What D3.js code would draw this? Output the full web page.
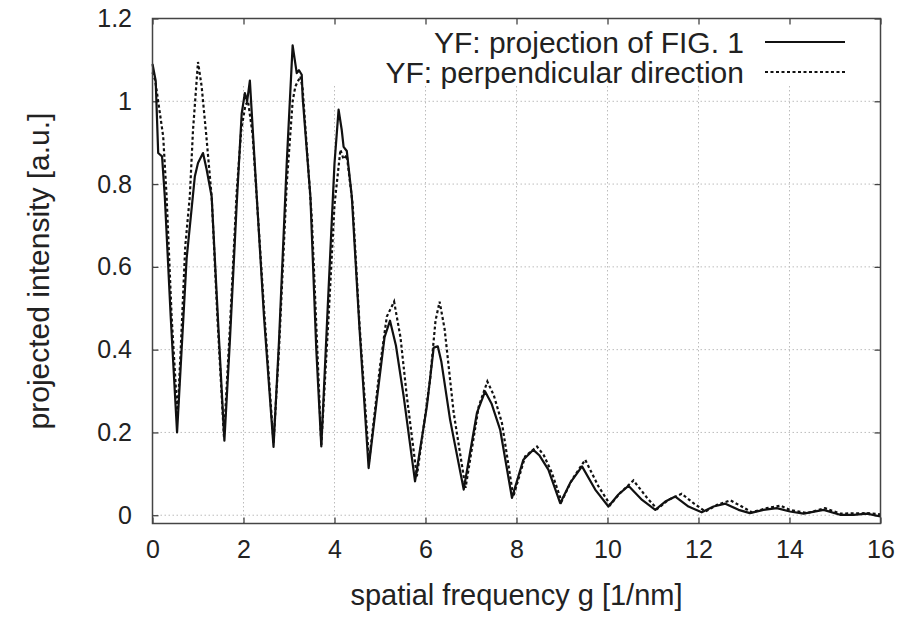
<!DOCTYPE html>
<html>
<head>
<meta charset="utf-8">
<script src="https://cdn.jsdelivr.net/npm/d3@7"></script>
<style>
  body { margin: 0; background: #fff; }
  text { font-family: "Liberation Sans", Arial, sans-serif; fill: #222; }
</style>
</head>
<body>
<div id="chart"></div>
<script>
// spatial frequency g [1/nm] vs projected intensity [a.u.]
var projection = [
  [0, 1.09], [0.07, 1.05], [0.125, 0.875], [0.21, 0.867], [0.27, 0.77], [0.4, 0.48], [0.54, 0.2],
  [0.62, 0.36], [0.75, 0.62], [0.93, 0.818], [1.0, 0.851], [1.11, 0.875], [1.19, 0.835], [1.3, 0.77],
  [1.45, 0.45], [1.58, 0.18], [1.7, 0.42], [1.85, 0.75], [1.96, 0.97], [2.03, 1.02], [2.08, 1.0],
  [2.14, 1.05], [2.22, 0.9], [2.45, 0.48], [2.66, 0.165], [2.78, 0.42], [2.95, 0.85], [3.08, 1.135],
  [3.17, 1.068], [3.22, 1.075], [3.28, 1.064], [3.3, 1.01], [3.47, 0.77], [3.6, 0.4], [3.71, 0.166],
  [3.85, 0.5], [4.0, 0.85], [4.09, 0.98], [4.16, 0.93], [4.2, 0.89], [4.27, 0.88], [4.38, 0.77],
  [4.55, 0.45], [4.75, 0.114], [4.93, 0.279], [5.1, 0.43], [5.22, 0.47], [5.35, 0.41], [5.52, 0.287],
  [5.77, 0.082], [6.03, 0.263], [6.18, 0.405], [6.27, 0.408], [6.35, 0.37], [6.54, 0.231], [6.84, 0.062],
  [7.13, 0.247], [7.31, 0.299], [7.45, 0.27], [7.64, 0.207], [7.9, 0.042], [8.15, 0.134], [8.37, 0.158],
  [8.5, 0.145], [8.7, 0.11], [8.96, 0.029], [9.18, 0.078], [9.44, 0.118], [9.73, 0.062], [10.02, 0.021],
  [10.24, 0.05], [10.46, 0.071], [10.76, 0.037], [11.05, 0.013], [11.27, 0.033], [11.49, 0.045],
  [11.78, 0.021], [12.07, 0.007], [12.33, 0.021], [12.59, 0.028], [12.88, 0.013], [13.13, 0.005],
  [13.43, 0.013], [13.72, 0.017], [14.01, 0.009], [14.31, 0.004], [14.75, 0.013], [15.11, 0.001],
  [15.41, 0.001], [15.7, 0.004], [16, -0.003]
];

var perpendicular = [
  [0, 1.07], [0.06, 1.05], [0.125, 1.0], [0.235, 0.915], [0.31, 0.77], [0.42, 0.48], [0.55, 0.24],
  [0.62, 0.4], [0.72, 0.65], [0.82, 0.77], [0.89, 0.93], [1.0, 1.095], [1.08, 1.036], [1.18, 0.92],
  [1.3, 0.77], [1.43, 0.47], [1.57, 0.19], [1.7, 0.45], [1.85, 0.78], [1.95, 0.93], [2.04, 0.99],
  [2.1, 1.0], [2.2, 0.92], [2.45, 0.5], [2.66, 0.175], [2.78, 0.4], [2.95, 0.8], [3.08, 1.0],
  [3.14, 1.036], [3.25, 1.06], [3.3, 1.03], [3.5, 0.72], [3.71, 0.17], [3.88, 0.5], [4.0, 0.75],
  [4.13, 0.883], [4.2, 0.86], [4.27, 0.87], [4.4, 0.75], [4.55, 0.46], [4.76, 0.13], [5.0, 0.36],
  [5.15, 0.48], [5.31, 0.516], [5.45, 0.43], [5.59, 0.287], [5.81, 0.094], [6.1, 0.327], [6.22, 0.47],
  [6.31, 0.516], [6.42, 0.45], [6.62, 0.247], [6.88, 0.066], [7.17, 0.263], [7.36, 0.323], [7.5, 0.29],
  [7.68, 0.223], [7.93, 0.045], [8.19, 0.142], [8.45, 0.166], [8.6, 0.145], [8.78, 0.102], [8.99, 0.033],
  [9.22, 0.086], [9.51, 0.134], [9.8, 0.07], [10.06, 0.025], [10.28, 0.054], [10.57, 0.084],
  [10.87, 0.042], [11.09, 0.015], [11.34, 0.037], [11.63, 0.052], [11.89, 0.029], [12.15, 0.009],
  [12.41, 0.025], [12.7, 0.036], [12.95, 0.021], [13.17, 0.007], [13.5, 0.017], [13.8, 0.023],
  [14.01, 0.013], [14.38, 0.005], [14.78, 0.017], [15.11, 0.004], [15.7, 0.005], [16, 0.002]
];

var xTicks = [0, 2, 4, 6, 8, 10, 12, 14, 16];
var yTicks = [0, 0.2, 0.4, 0.6, 0.8, 1, 1.2];
var seriesNames = ["YF: projection of FIG. 1", "YF: perpendicular direction"];

var width = 917, height = 617;
var margin = {top: 18.5, right: 36.5, bottom: 93.5, left: 152.5};

var svg = d3.select("#chart")
    .append("svg")
    .attr("width", width)
    .attr("height", height);

var x = d3.scaleLinear()
    .domain([0, 16])
    .range([margin.left, width - margin.right]);

var y = d3.scaleLinear()
    .domain([-0.02, 1.2])
    .range([height - margin.bottom, margin.top]);

// grid
var grid = svg.append("g")
    .attr("stroke", "#bcbcbc")
    .attr("stroke-width", 1)
    .attr("stroke-dasharray", "1.5,2.5");

grid.selectAll("line.hg")
    .data(yTicks.filter(function(d) { return d < 1.2; }))
    .enter()
    .append("line")
    .attr("x1", x(0))
    .attr("x2", x(16))
    .attr("y1", function(d) { return y(d); })
    .attr("y2", function(d) { return y(d); });

grid.selectAll("line.vg")
    .data(xTicks.filter(function(d) { return d > 0 && d < 16; }))
    .enter()
    .append("line")
    .attr("x1", function(d) { return x(d); })
    .attr("x2", function(d) { return x(d); })
    .attr("y1", y(-0.02))
    .attr("y2", y(1.04));

// axes (inside ticks, mirrored)
var tickLen = 6;
var xAxis = d3.axisBottom(x).tickValues(xTicks).tickSize(-tickLen).tickPadding(17).tickFormat(d3.format("d"));
var xAxisTop = d3.axisTop(x).tickValues(xTicks).tickSize(-tickLen).tickFormat("");
var yAxis = d3.axisLeft(y).tickValues(yTicks).tickSize(-tickLen).tickPadding(20.5).tickFormat(function(d) { return d3.format("")(d); });
var yAxisRight = d3.axisRight(y).tickValues(yTicks).tickSize(-tickLen).tickFormat("");

function styleAxis(g) {
    g.select(".domain").remove();
    g.selectAll(".tick line").attr("stroke", "#444").attr("stroke-width", 1.3);
    g.selectAll(".tick text").attr("font-size", "25px").attr("fill", "#222");
}

svg.append("g")
    .attr("transform", "translate(0," + y(-0.02) + ")")
    .call(xAxis)
    .call(styleAxis);

svg.append("g")
    .attr("transform", "translate(0," + y(1.2) + ")")
    .call(xAxisTop)
    .call(styleAxis);

svg.append("g")
    .attr("transform", "translate(" + x(0) + ",0)")
    .call(yAxis)
    .call(styleAxis);

svg.append("g")
    .attr("transform", "translate(" + x(16) + ",0)")
    .call(yAxisRight)
    .call(styleAxis);

// curves
var line = d3.line()
    .x(function(d) { return x(d[0]); })
    .y(function(d) { return y(d[1]); });

svg.append("path")
    .datum(perpendicular)
    .attr("fill", "none")
    .attr("stroke", "#111")
    .attr("stroke-width", 2.2)
    .attr("stroke-dasharray", "3,2.5")
    .attr("d", line);

svg.append("path")
    .datum(projection)
    .attr("fill", "none")
    .attr("stroke", "#111")
    .attr("stroke-width", 2.2)
    .attr("stroke-linejoin", "round")
    .attr("d", line);

// frame
svg.append("rect")
    .attr("x", x(0))
    .attr("y", y(1.2))
    .attr("width", x(16) - x(0))
    .attr("height", y(-0.02) - y(1.2))
    .attr("fill", "none")
    .attr("stroke", "#444")
    .attr("stroke-width", 1.5);

// legend
var legend = svg.selectAll("g.legend")
    .data(seriesNames)
    .enter()
    .append("g")
    .attr("transform", function(d, i) { return "translate(0," + (42 + i * 30) + ")"; });

legend.append("text")
    .attr("x", 744)
    .attr("dy", "0.35em")
    .attr("text-anchor", "end")
    .attr("font-size", "30px")
    .text(function(d) { return d; });

legend.append("line")
    .attr("x1", 765)
    .attr("x2", 845)
    .attr("stroke", "#111")
    .attr("stroke-width", 2)
    .attr("stroke-dasharray", function(d, i) { return i === 0 ? null : "3,2.5"; });

// axis titles
svg.append("text")
    .attr("x", (x(0) + x(16)) / 2)
    .attr("y", 595)
    .attr("dy", "0.35em")
    .attr("text-anchor", "middle")
    .attr("font-size", "29px")
    .text("spatial frequency g [1/nm]");

svg.append("text")
    .attr("transform", "translate(38," + ((y(-0.02) + y(1.2)) / 2) + ") rotate(-90)")
    .attr("dy", "0.35em")
    .attr("text-anchor", "middle")
    .attr("font-size", "30px")
    .text("projected intensity [a.u.]");
</script>
</body>
</html>
